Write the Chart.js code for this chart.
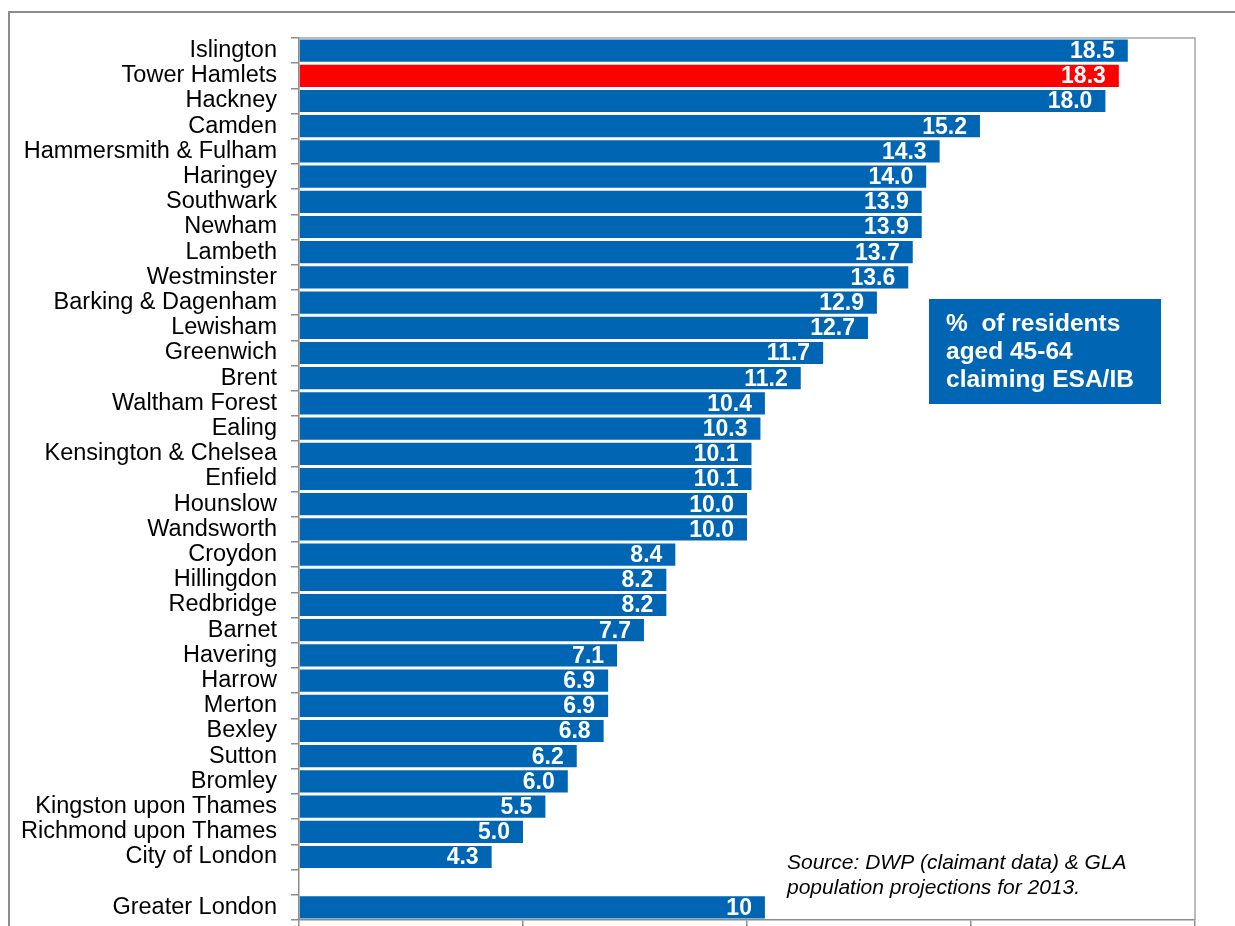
<!DOCTYPE html>
<html>
<head>
<meta charset="utf-8">
<script src="https://cdn.jsdelivr.net/npm/chart.js@4/dist/chart.umd.min.js"></script>
<style>
  html, body { margin: 0; padding: 0; background: #fff; }
  #wrap { width: 1235px; height: 926px; position: relative; }
</style>
</head>
<body>
<div id="wrap"><canvas id="c" width="1235" height="926"></canvas></div>
<script>
const boroughs = [
  "Islington", "Tower Hamlets", "Hackney", "Camden", "Hammersmith & Fulham",
  "Haringey", "Southwark", "Newham", "Lambeth", "Westminster",
  "Barking & Dagenham", "Lewisham", "Greenwich", "Brent", "Waltham Forest",
  "Ealing", "Kensington & Chelsea", "Enfield", "Hounslow", "Wandsworth",
  "Croydon", "Hillingdon", "Redbridge", "Barnet", "Havering",
  "Harrow", "Merton", "Bexley", "Sutton", "Bromley",
  "Kingston upon Thames", "Richmond upon Thames", "City of London", "", "Greater London"
];
const claimRate = [
  18.5, 18.3, 18.0, 15.2, 14.3,
  14.0, 13.9, 13.9, 13.7, 13.6,
  12.9, 12.7, 11.7, 11.2, 10.4,
  10.3, 10.1, 10.1, 10.0, 10.0,
  8.4, 8.2, 8.2, 7.7, 7.1,
  6.9, 6.9, 6.8, 6.2, 6.0,
  5.5, 5.0, 4.3, null, 10.4
];
const valueLabels = [
  "18.5", "18.3", "18.0", "15.2", "14.3",
  "14.0", "13.9", "13.9", "13.7", "13.6",
  "12.9", "12.7", "11.7", "11.2", "10.4",
  "10.3", "10.1", "10.1", "10.0", "10.0",
  "8.4", "8.2", "8.2", "7.7", "7.1",
  "6.9", "6.9", "6.8", "6.2", "6.0",
  "5.5", "5.0", "4.3", "", "10"
];
const highlight = "Tower Hamlets";
const xMin = 0, xMax = 20, xStep = 5;
const boxLines = ["%  of residents", "aged 45-64", "claiming ESA/IB"];
const sourceLines = ["Source: DWP (claimant data) & GLA", "population projections for 2013."];

const BLUE = "#0066b3";
const RED = "#ff0000";
const barColors = boroughs.map(b => b === highlight ? RED : BLUE);

const decorPlugin = {
  id: "decor",
  beforeDraw(chart) {
    const ctx = chart.ctx;
    ctx.save();
    ctx.fillStyle = "#fff";
    ctx.fillRect(0, 0, chart.width, chart.height);
    ctx.strokeStyle = "#8c8c8c";
    ctx.lineWidth = 2;
    ctx.beginPath();
    ctx.moveTo(9, chart.height);
    ctx.lineTo(9, 12);
    ctx.lineTo(chart.width, 12);
    ctx.stroke();
    ctx.restore();
  },
  afterDatasetsDraw(chart) {
    const ctx = chart.ctx;
    const ca = chart.chartArea;
    ctx.save();
    ctx.strokeStyle = "#a6a6a6";
    ctx.lineWidth = 1.5;
    ctx.beginPath();
    ctx.moveTo(ca.left, ca.top);
    ctx.lineTo(ca.right, ca.top);
    ctx.lineTo(ca.right, ca.bottom);
    ctx.stroke();
    const meta = chart.getDatasetMeta(0);
    ctx.fillStyle = "#fff";
    ctx.font = "bold 23px 'Liberation Sans', Arial, sans-serif";
    ctx.textAlign = "right";
    ctx.textBaseline = "middle";
    meta.data.forEach((bar, i) => {
      if (claimRate[i] == null) return;
      ctx.fillText(valueLabels[i], bar.x - 13, bar.y + 1);
    });
    ctx.restore();
  },
  afterDraw(chart) {
    const ctx = chart.ctx;
    ctx.save();
    ctx.fillStyle = BLUE;
    ctx.fillRect(929, 299, 232, 105);
    ctx.fillStyle = "#fff";
    ctx.font = "bold 24.5px 'Liberation Sans', Arial, sans-serif";
    ctx.textAlign = "left";
    ctx.textBaseline = "alphabetic";
    boxLines.forEach((t, i) => ctx.fillText(t, 946, 331 + i * 28));
    ctx.fillStyle = "#000";
    ctx.font = "italic 21px 'Liberation Sans', Arial, sans-serif";
    sourceLines.forEach((t, i) => ctx.fillText(t, 787, 869 + i * 25));
    ctx.restore();
  }
};

new Chart(document.getElementById("c"), {
  type: "bar",
  data: {
    labels: boroughs,
    datasets: [{
      data: claimRate,
      backgroundColor: barColors,
      borderWidth: 0,
      barPercentage: 0.88,
      categoryPercentage: 1.0
    }]
  },
  options: {
    indexAxis: "y",
    responsive: false,
    animation: false,
    events: [],
    layout: { padding: { top: 38, right: 40, left: 0, bottom: 0 } },
    plugins: { legend: { display: false }, tooltip: { enabled: false } },
    scales: {
      x: {
        min: xMin, max: xMax,
        ticks: { display: false, stepSize: xStep },
        grid: { drawOnChartArea: false, drawTicks: true, tickLength: 6, color: "#8c8c8c", lineWidth: 1.5 },
        border: { display: true, color: "#8c8c8c", width: 1.5 },
        afterFit(scale) { scale.height = 6; scale.paddingLeft = 0; scale.paddingRight = 0; }
      },
      y: {
        ticks: {
          color: "#000",
          font: { family: "'Liberation Sans', Arial, sans-serif", size: 23.5 },
          padding: 14,
          autoSkip: false
        },
        grid: { offset: true, drawOnChartArea: false, drawTicks: true, tickLength: 8, color: "#8c8c8c", lineWidth: 1.5 },
        border: { display: true, color: "#8c8c8c", width: 1.5 },
        afterFit(scale) { scale.width = 299; scale.paddingTop = 0; scale.paddingBottom = 0; }
      }
    }
  },
  plugins: [decorPlugin]
});
</script>
</body>
</html>
